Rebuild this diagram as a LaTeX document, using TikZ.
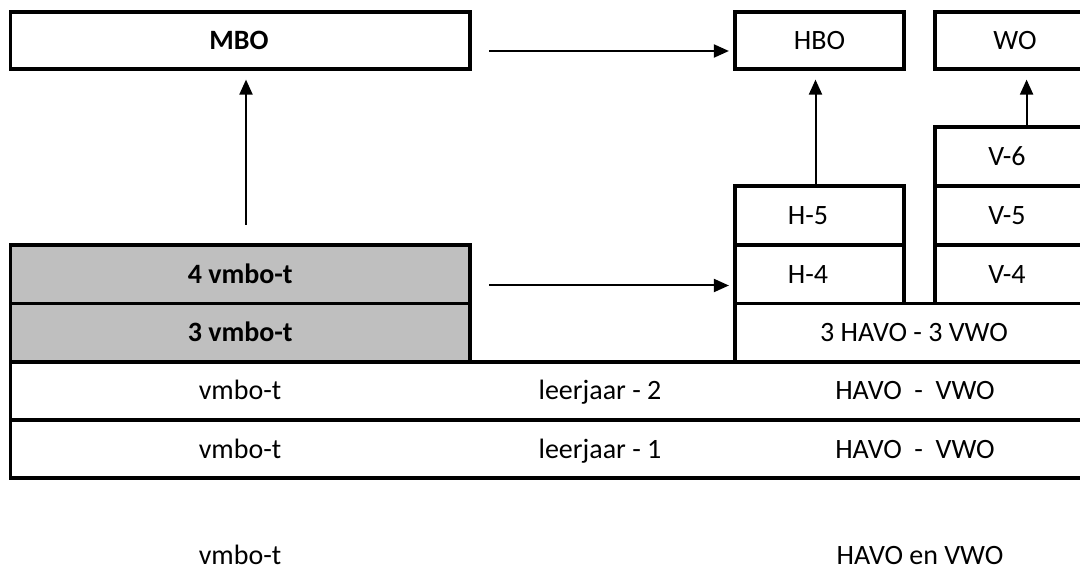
\documentclass[tikz,border=0pt]{standalone}
\usepackage{fontspec}
\setmainfont{Carlito}
\usetikzlibrary{arrows.meta}
\definecolor{cellgray}{RGB}{191,191,191}
\tikzset{
  box/.style={draw=black, line width=3.2pt, rectangle, inner sep=0pt, anchor=center},
  graybox/.style={box, fill=cellgray},
  txt/.style={inner sep=0pt, text height=18pt, text depth=0pt, anchor=center},
  arr/.style={draw=black, line width=2pt, -{Triangle[length=15pt,width=13pt]}}
}
\begin{document}
\begin{tikzpicture}[x=1pt,y=-1pt,font=\fontsize{28}{34}\selectfont]
\useasboundingbox (0,0) rectangle (1080,569);
\clip (0,0) rectangle (1080,569);
% boxes
\node[box, minimum width=459.5pt, minimum height=57pt] (mbo) at (240.25,40.5) {};
\node[box, minimum width=169pt, minimum height=57pt] (hbo) at (819.5,40.5) {};
\node[box, minimum width=160pt, minimum height=57pt] (wo) at (1015,40.5) {};
\node[box, minimum width=160pt, minimum height=59pt] (v6) at (1015,156.5) {};
\node[box, minimum width=160pt, minimum height=59pt] (v5) at (1015,215.5) {};
\node[box, minimum width=160pt, minimum height=58.5pt] (v4) at (1015,274.25) {};
\node[box, minimum width=169pt, minimum height=59pt] (h5) at (819.5,215.5) {};
\node[box, minimum width=169pt, minimum height=58.5pt] (h4) at (819.5,274.25) {};
\node[graybox, minimum width=459.5pt, minimum height=58.5pt] (g4) at (240.25,274.25) {};
\node[graybox, minimum width=459.5pt, minimum height=58.5pt] (g3) at (240.25,332.75) {};
\node[box, minimum width=360pt, minimum height=58.5pt] (h3) at (915,332.75) {};
\node[box, minimum width=1084.5pt, minimum height=58pt] (r2) at (552.75,391) {};
\node[box, minimum width=1084.5pt, minimum height=58pt] (r1) at (552.75,449) {};
% texts
\node[txt] (tmbo) at (239,40.5) {\textbf{MBO}};
\node[txt] (thbo) at (hbo) {HBO};
\node[txt] (two) at (wo) {WO};
\node[txt] (tv6) at ([xshift=-8pt]v6.center) {V-6};
\node[txt] (tv5) at ([xshift=-8pt]v5.center) {V-5};
\node[txt] (tv4) at ([xshift=-8pt]v4.center) {V-4};
\node[txt] (th5) at ([xshift=-11.5pt]h5.center) {H-5};
\node[txt] (th4) at ([xshift=-11.5pt]h4.center) {H-4};
\node[txt] (tg4) at (g4) {\textbf{4 vmbo-t}};
\node[txt] (tg3) at (g3) {\textbf{3 vmbo-t}};
\node[txt] (th3) at (914,332.75) {3 HAVO - 3 VWO};
\node[txt] (t2a) at (240,391) {vmbo-t};
\node[txt] (t2b) at (600,391) {leerjaar - 2};
\node[txt] (t2c) at (915,391) {HAVO\ \ -\ \ VWO};
\node[txt] (t1a) at (240,449) {vmbo-t};
\node[txt] (t1b) at (600,449) {leerjaar - 1};
\node[txt] (t1c) at (915,449) {HAVO\ \ -\ \ VWO};
\node[txt] (bl) at (240,555) {vmbo-t};
\node[txt] (br) at (920,555) {HAVO en VWO};
% arrows
\coordinate (s1) at (489,51);
\coordinate (s2) at (489,285.5);
\coordinate (s3) at (246,225);
\draw[arr, shorten >=4.5pt] (s1) -- (s1 -| hbo.west);
\draw[arr, shorten >=4.5pt] (s2) -- (s2 -| h4.west);
\draw[arr, shorten >=9pt] (s3) -- (s3 |- mbo.south);
\draw[arr, shorten >=9pt] ([xshift=-4pt]h5.north) -- ([xshift=-4pt]hbo.south);
\draw[arr, shorten >=9pt] ([xshift=11.6pt]v6.north) -- ([xshift=11.6pt]wo.south);
\end{tikzpicture}
\end{document}
